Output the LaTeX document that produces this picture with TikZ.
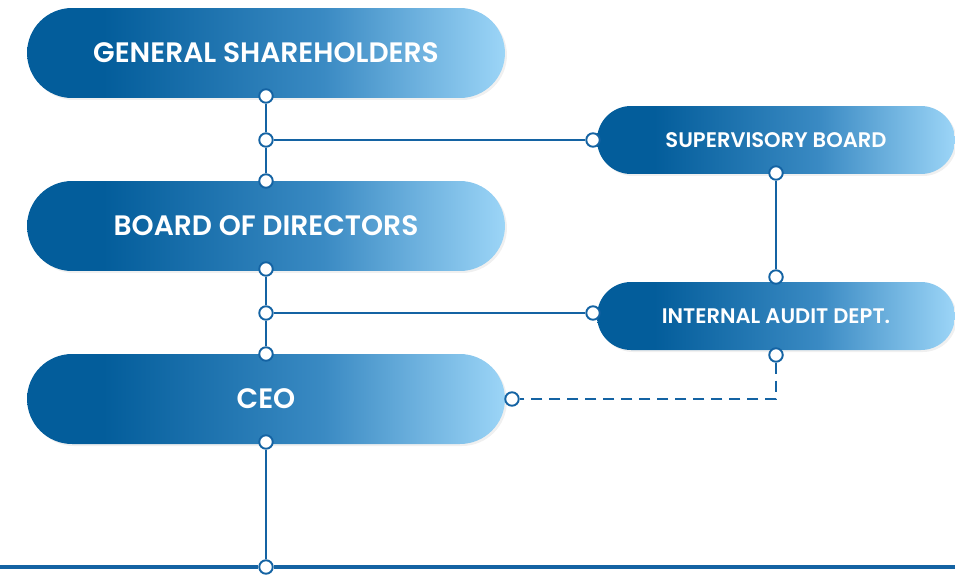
\documentclass[tikz,border=0pt]{standalone}
\usepackage{fontspec}
\setmainfont{Poppins}[BoldFont={Poppins SemiBold}]
\usetikzlibrary{shadows}
\definecolor{orgdark}{HTML}{035D9B}
\definecolor{orgmid}{HTML}{3A8AC3}
\definecolor{orglight}{HTML}{9CD5F7}
\definecolor{orgline}{HTML}{1463A3}
\pgfdeclarehorizontalshading{orgfade}{100bp}{color(0bp)=(orgdark); color(25bp)=(orgdark); color(33bp)=(orgdark); color(56bp)=(orgmid); color(75bp)=(orglight); color(100bp)=(orglight)}
\begin{document}
\begin{tikzpicture}[x=0.02cm, y=-0.02cm,
   every node/.style={font=\bfseries, text=white},
   bigbox/.style={rectangle, rounded corners=0.9cm, minimum width=9.56cm, minimum height=1.8cm,
      inner sep=0pt, shading=orgfade, font=\bfseries\fontsize{16}{18}\selectfont,
      drop shadow={opacity=0.12, shadow xshift=0.04cm, shadow yshift=-0.04cm}},
   smallbox/.style={bigbox, rounded corners=0.68cm, minimum width=7.16cm, minimum height=1.36cm,
      font=\bfseries\fontsize{12}{14}\selectfont},
   dot/.style={circle, draw=orgline, fill=white, line width=1.1pt, minimum size=0.27cm, inner sep=0pt},
   link/.style={draw=orgline, line width=1.1pt}]
\useasboundingbox (0,0) rectangle (955,578);
% boxes
\node[bigbox] (gs)  at (266,53)  {GENERAL SHAREHOLDERS};
\node[bigbox] (bod) at (266,226) {BOARD OF DIRECTORS};
\node[bigbox] (ceo) at (266,399) {CEO};
\node[smallbox] (sb)  at (776,140) {SUPERVISORY BOARD};
\node[smallbox] (iad) at (776,316) {INTERNAL AUDIT DEPT.};
% dots
\node[dot] (gsb)  at (266,96)  {};
\node[dot] (j1)   at (266,140) {};
\node[dot] (bodt) at (266,181) {};
\node[dot] (sbl)  at (593,140) {};
\node[dot] (sbb)  at (776,173) {};
\node[dot] (iadt) at (776,277) {};
\node[dot] (bodb) at (266,269) {};
\node[dot] (j2)   at (266,313) {};
\node[dot] (ceot) at (266,354) {};
\node[dot] (iadl) at (593,313) {};
\node[dot] (iadb) at (776,355) {};
\node[dot] (ceor) at (512,399) {};
\node[dot] (ceob) at (266,442) {};
\node[dot] (base) at (266,567) {};
\coordinate (bl) at (0,567);
\coordinate (br) at (955,567);
% connectors
\path[link] (gsb) -- (j1) -- (bodt);
\path[link] (j1) -- (sbl);
\path[link] (sbb) -- (iadt);
\path[link] (bodb) -- (j2) -- (ceot);
\path[link] (j2) -- (iadl);
\path[link, dash pattern=on 0.22cm off 0.14cm] (iadb) |- (ceor);
\path[link] (ceob) -- (base);
\path[link, line width=1.8pt] (bl) -- (base) -- (br);
\end{tikzpicture}
\end{document}
